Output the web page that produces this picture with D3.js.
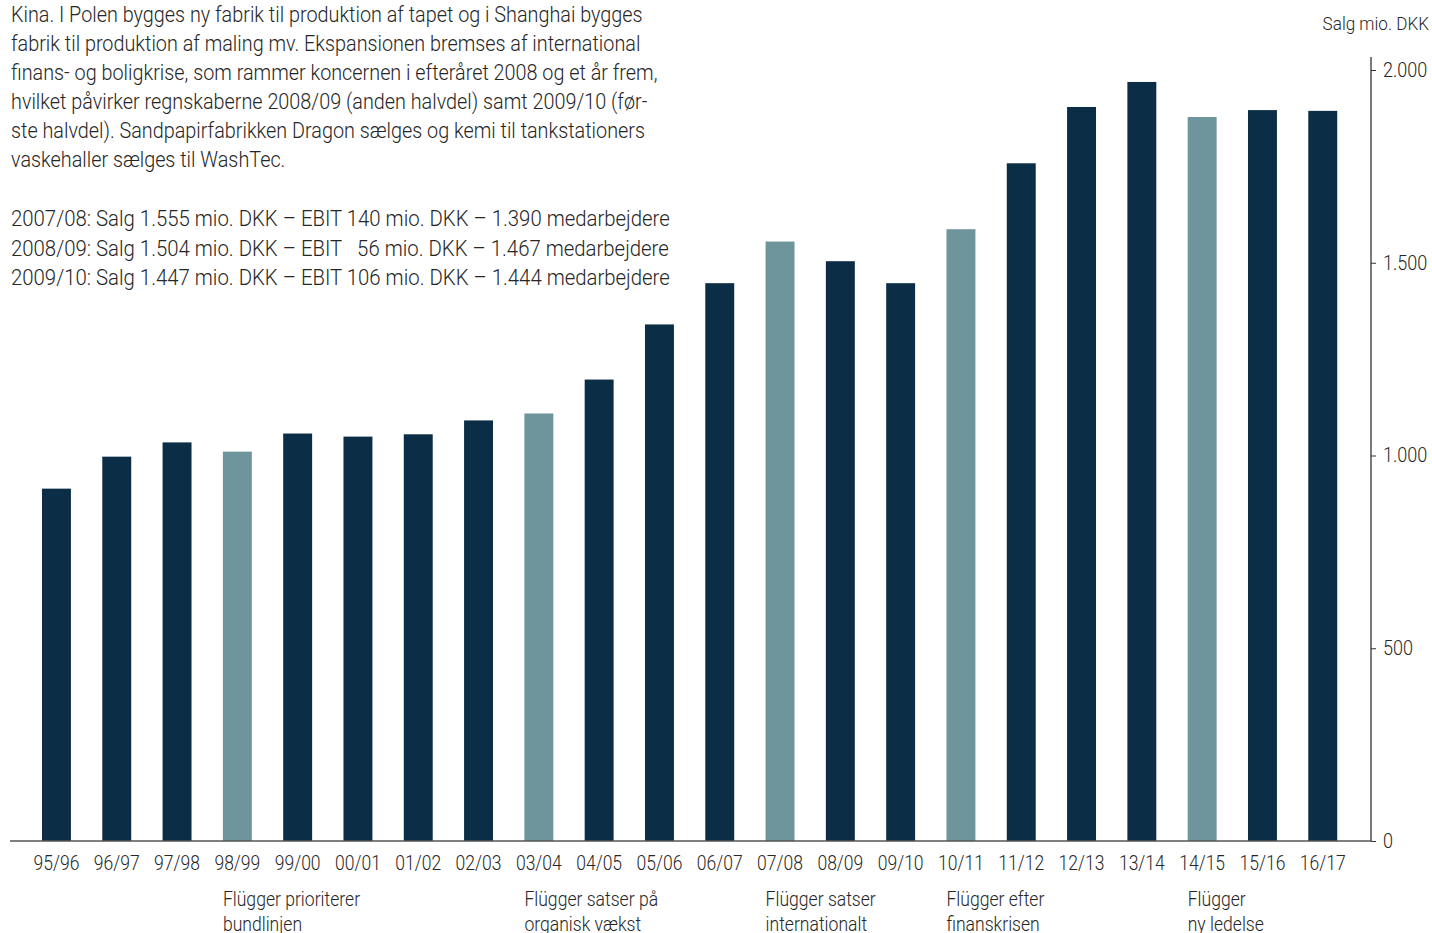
<!DOCTYPE html>
<html>
<head>
<meta charset="utf-8">
<script src="https://cdn.jsdelivr.net/npm/d3@7"></script>
<style>
  body { margin: 0; background: #fff; }
  svg text { font-family: "Roboto", sans-serif; font-weight: 300; fill: #262626; }
</style>
</head>
<body>
<div id="chart"></div>
<script>
const seasons = ["95/96","96/97","97/98","98/99","99/00","00/01","01/02","02/03","03/04","04/05","05/06",
  "06/07","07/08","08/09","09/10","10/11","11/12","12/13","13/14","14/15","15/16","16/17"];
const sales = [914, 997, 1034, 1010, 1057, 1049, 1055, 1091, 1109, 1197, 1340,
  1447, 1555, 1504, 1447, 1587, 1758, 1904, 1969, 1878, 1896, 1894];
const highlighted = ["98/99", "03/04", "07/08", "10/11", "14/15"];
const yTicks = [0, 500, 1000, 1500, 2000];
const annotations = [
  { season: "98/99", lines: ["Flügger prioriterer", "bundlinjen"] },
  { season: "03/04", lines: ["Flügger satser på", "organisk vækst"] },
  { season: "07/08", lines: ["Flügger satser", "internationalt"] },
  { season: "10/11", lines: ["Flügger efter", "finanskrisen"] },
  { season: "14/15", lines: ["Flügger", "ny ledelse"] }
];
const introText = [
  "Kina. I Polen bygges ny fabrik til produktion af tapet og i Shanghai bygges",
  "fabrik til produktion af maling mv. Ekspansionen bremses af international",
  "finans- og boligkrise, som rammer koncernen i efteråret 2008 og et år frem,",
  "hvilket påvirker regnskaberne 2008/09 (anden halvdel) samt 2009/10 (før-",
  "ste halvdel). Sandpapirfabrikken Dragon sælges og kemi til tankstationers",
  "vaskehaller sælges til WashTec."
];
const keyFigures = [
  "2007/08: Salg 1.555 mio. DKK – EBIT 140 mio. DKK – 1.390 medarbejdere",
  "2008/09: Salg 1.504 mio. DKK – EBIT\u00a0\u00a0\u00a056 mio. DKK – 1.467 medarbejdere",
  "2009/10: Salg 1.447 mio. DKK – EBIT 106 mio. DKK – 1.444 medarbejdere"
];

const dark = "#0b2d45";
const light = "#6e959c";
const width = 1432, height = 933;
const fontSize = 22;

const svg = d3.select("#chart").append("svg")
  .attr("width", width)
  .attr("height", height);

// the original uses a condensed face; measure Roboto and squeeze it horizontally
function squeeze(str, target) {
  const probe = svg.append("text").style("font-size", fontSize + "px").text(str);
  const f = target / probe.node().getComputedTextLength();
  probe.remove();
  return f;
}
const sx = squeeze(introText[0], 632);
const sxKey = squeeze(keyFigures[0], 659);

const xScale = d3.scaleBand()
  .domain(seasons)
  .range([26.3, 1352.9])
  .paddingInner(0.52)
  .paddingOuter(0.26);

const yScale = d3.scaleLinear()
  .domain([0, 2000])
  .range([841, 70]);

// bars
svg.selectAll("rect")
  .data(seasons)
  .enter()
  .append("rect")
  .attr("x", d => xScale(d))
  .attr("y", (d, i) => yScale(sales[i]))
  .attr("width", xScale.bandwidth())
  .attr("height", (d, i) => yScale(0) - yScale(sales[i]))
  .attr("fill", d => highlighted.includes(d) ? light : dark);

// baseline
svg.append("line")
  .attr("x1", 10).attr("x2", 1371)
  .attr("y1", yScale(0)).attr("y2", yScale(0))
  .attr("stroke", "#555").attr("stroke-width", 1.5);

// y axis on the right
const yAxis = svg.append("g")
  .attr("transform", "translate(1371,0)")
  .call(d3.axisRight(yScale)
    .tickValues(yTicks)
    .tickSize(5)
    .tickPadding(7)
    .tickFormat(d => d3.format(",")(d).replace(/,/g, ".")));
yAxis.select(".domain").attr("d", `M0,57V${yScale(0)}`).attr("stroke", "#333").attr("stroke-width", 1.3);
yAxis.selectAll(".tick line").attr("stroke", "#333");
yAxis.selectAll(".tick text")
  .style("font-size", "20px")
  .attr("fill", "#262626")
  .attr("x", 12 / sx)
  .attr("transform", `scale(${sx},1)`);

svg.append("text")
  .attr("transform", `translate(1429,30) scale(${sx},1)`)
  .attr("text-anchor", "end")
  .style("font-size", "19px")
  .text("Salg mio. DKK");

// x labels
const xAxis = svg.append("g")
  .attr("transform", `translate(0,${yScale(0)})`)
  .call(d3.axisBottom(xScale).tickSize(0).tickPadding(14));
xAxis.select(".domain").remove();
xAxis.selectAll(".tick text")
  .style("font-size", "20.5px")
  .attr("fill", "#262626")
  .attr("transform", `scale(${sx * 0.95},1)`);

// annotations
annotations.forEach(a => {
  const t = svg.append("text")
    .attr("transform", `translate(${xScale(a.season)},906) scale(${sx * 0.93},1)`)
    .style("font-size", "21px");
  a.lines.forEach((l, i) => {
    t.append("tspan").attr("x", 0).attr("dy", i ? 25 : 0).text(l);
  });
});

// intro text
svg.selectAll(".intro")
  .data(introText)
  .enter()
  .append("text")
  .attr("class", "intro")
  .attr("transform", (d, i) => `translate(11,${22 + i * 29}) scale(${sx},1)`)
  .style("font-size", fontSize + "px")
  .text(d => d);

svg.selectAll(".keyfig")
  .data(keyFigures)
  .enter()
  .append("text")
  .attr("class", "keyfig")
  .attr("transform", (d, i) => `translate(11,${226 + i * 29.5}) scale(${sxKey},1)`)
  .style("font-size", fontSize + "px")
  .text(d => d);
</script>
</body>
</html>
